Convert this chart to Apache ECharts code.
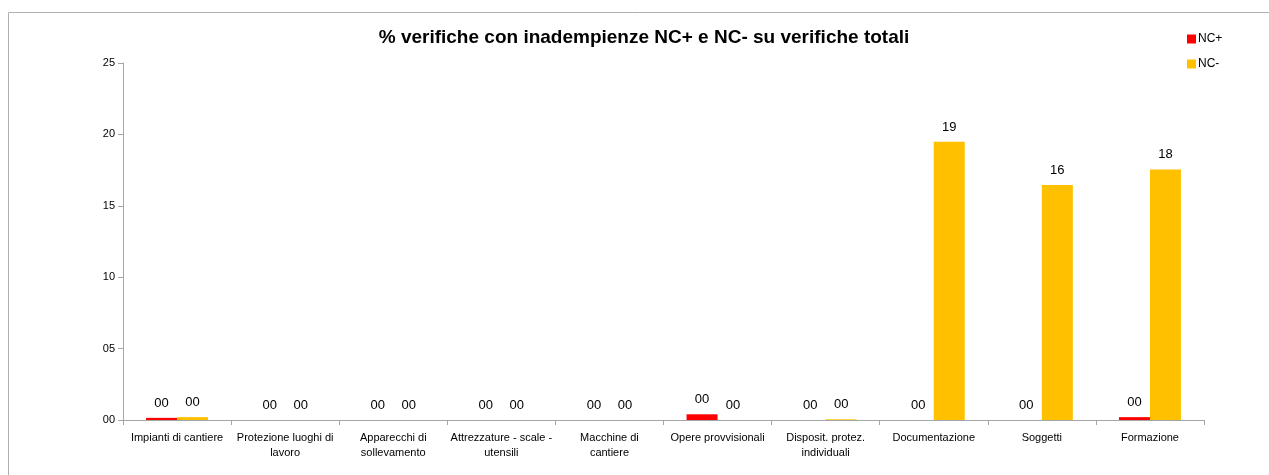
<!DOCTYPE html>
<html>
<head>
<meta charset="utf-8">
<script src="https://cdn.jsdelivr.net/npm/echarts@6/dist/echarts.min.js"></script>
<style>
html,body{margin:0;padding:0;background:#fff;}
#chart{width:1269px;height:475px;}
</style>
</head>
<body>
<div id="chart"></div>
<script>
const titleText = '% verifiche con inadempienze NC+ e NC- su verifiche totali';
const categories = [
  'Impianti di cantiere',
  'Protezione luoghi di\nlavoro',
  'Apparecchi di\nsollevamento',
  'Attrezzature - scale -\nutensili',
  'Macchine di\ncantiere',
  'Opere provvisionali',
  'Disposit. protez.\nindividuali',
  'Documentazione',
  'Soggetti',
  'Formazione'
];
const seriesNames = ['NC+', 'NC-'];
const ncPlus  = [0.15, 0, 0, 0, 0, 0.4, 0, 0, 0, 0.2];
const ncMinus = [0.2, 0, 0, 0, 0, 0, 0.05, 19.49, 16.45, 17.55];
const yTicks = [0, 5, 10, 15, 20, 25];

const font = '"Liberation Sans", "DejaVu Sans", sans-serif';
const pad2 = v => { const r = Math.round(v); return (r < 10 ? '0' : '') + r; };

const chart = echarts.init(document.getElementById('chart'), null, {renderer: 'canvas'});
chart.setOption({
  animation: false,
  backgroundColor: '#ffffff',
  graphic: [
    {
      type: 'rect',
      shape: {x: 8.5, y: 12.5, width: 1300, height: 500},
      style: {fill: 'none', stroke: '#b0b0b0', lineWidth: 1},
      silent: true, z: -10
    },
    {
      type: 'text',
      x: 644, y: 38,
      style: {
        text: titleText, textAlign: 'center', textVerticalAlign: 'middle',
        fontFamily: font, fontWeight: 'bold', fontSize: 19, fill: '#000'
      },
      silent: true
    }
  ],
  legend: {
    orient: 'vertical',
    left: 1182,
    top: 28,
    itemWidth: 9,
    itemHeight: 9,
    itemGap: 13,
    icon: 'rect',
    data: seriesNames,
    textStyle: {fontFamily: font, fontSize: 12, color: '#000', padding: [0, 0, 0, -3]}
  },
  grid: {left: 123, right: 65, top: 63, bottom: 55, containLabel: false},
  xAxis: {
    type: 'category',
    data: categories,
    axisLine: {lineStyle: {color: '#a6a6a6'}},
    axisTick: {show: true, length: 5, lineStyle: {color: '#a6a6a6'}},
    axisLabel: {fontFamily: font, fontSize: 11, color: '#000', interval: 0, lineHeight: 15, margin: 10}
  },
  yAxis: {
    type: 'value',
    min: 0,
    max: 25,
    interval: 5,
    splitLine: {show: false},
    axisLine: {show: true, lineStyle: {color: '#a6a6a6'}},
    axisTick: {show: true, length: 5, lineStyle: {color: '#a6a6a6'}},
    axisLabel: {fontFamily: font, fontSize: 11, color: '#000', margin: 8,
      formatter: v => yTicks.indexOf(v) >= 0 ? pad2(v) : ''}
  },
  series: [
    {
      name: seriesNames[0], type: 'bar', data: ncPlus,
      barWidth: 31, barGap: '0%',
      itemStyle: {color: '#ff0000'},
      label: {show: true, position: 'top', distance: 8, fontFamily: font, fontSize: 13, color: '#000',
        formatter: p => pad2(p.value)}
    },
    {
      name: seriesNames[1], type: 'bar', data: ncMinus,
      barWidth: 31, barGap: '0%',
      itemStyle: {color: '#ffc000'},
      label: {show: true, position: 'top', distance: 8, fontFamily: font, fontSize: 13, color: '#000',
        formatter: p => pad2(p.value)}
    }
  ]
});
</script>
</body>
</html>
